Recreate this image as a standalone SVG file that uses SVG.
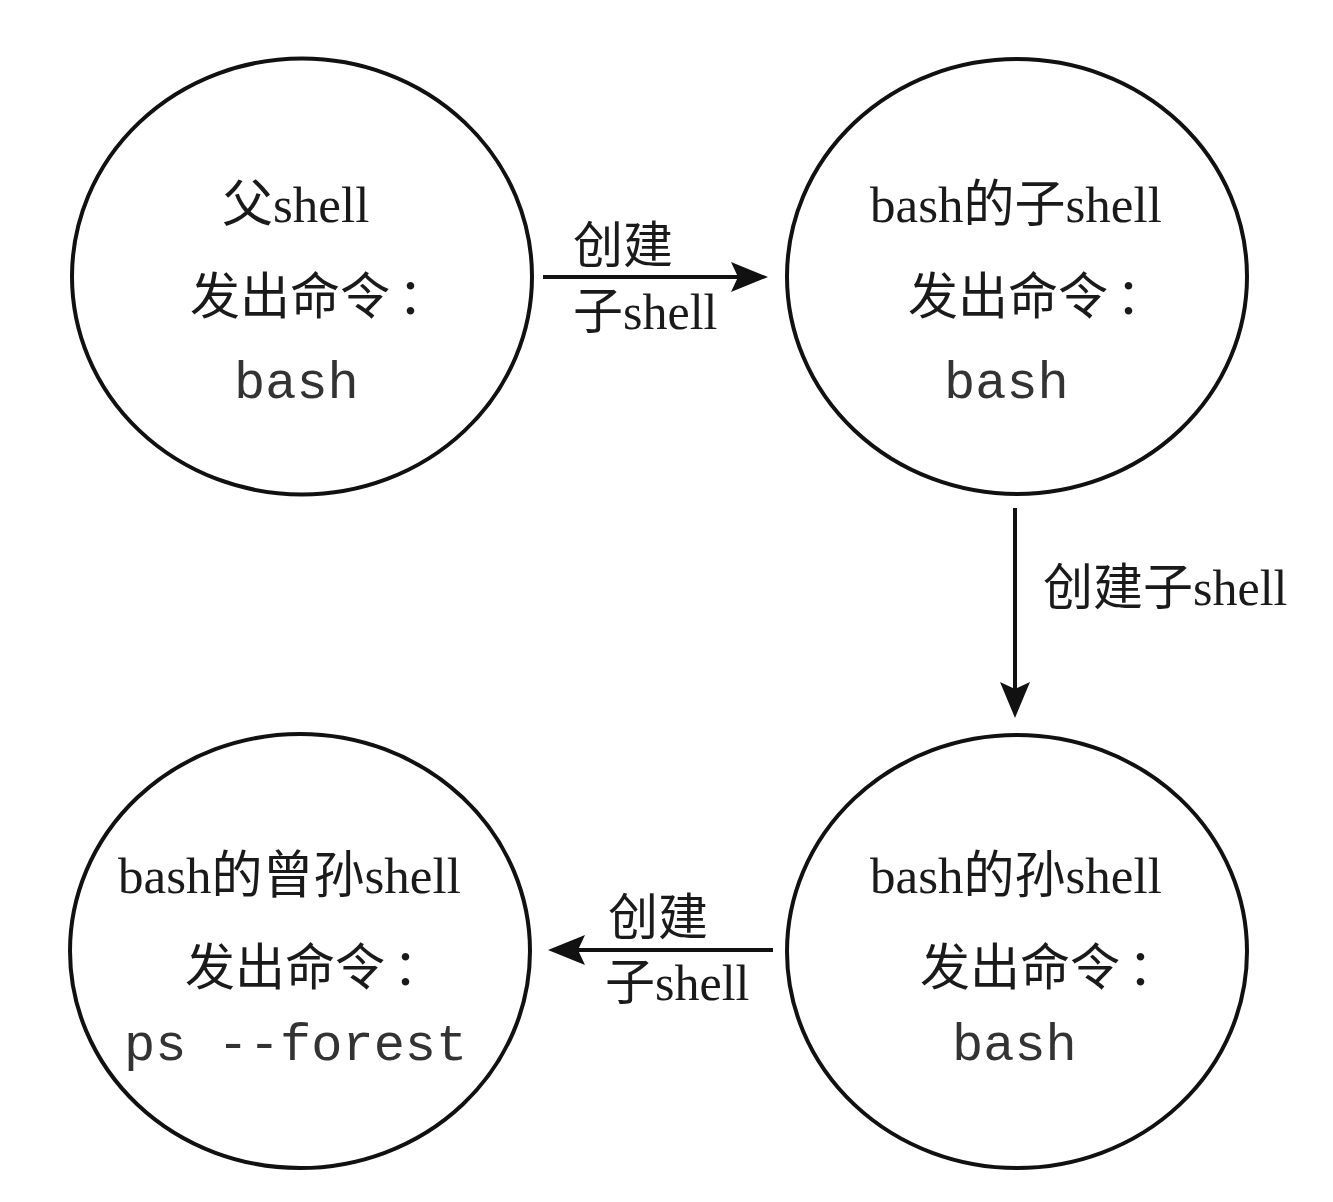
<svg xmlns="http://www.w3.org/2000/svg" width="1333" height="1202" viewBox="0 0 1333 1202">
<style>
.node{fill:#fff;stroke:#111;stroke-width:4}
.t{font-family:"Liberation Serif","Noto Sans CJK SC",serif;font-size:51px;fill:#1a1a1a}
.cj{font-family:"Liberation Serif","Noto Sans CJK SC",serif;font-size:50px;fill:#1a1a1a}
.m{font-family:"Liberation Mono",monospace;font-size:52px;fill:#333}
.lbl{font-family:"Liberation Serif","Noto Sans CJK SC",serif;font-size:50px;fill:#1a1a1a}
.edge{stroke:#111;stroke-width:4;fill:none}
.head{fill:#111}
</style>
<rect width="1333" height="1202" fill="#fff"/>
<g id="node-parent">
<ellipse class="node" cx="302" cy="276.5" rx="230" ry="218"/>
<text class="t" x="222" y="222">父shell</text>
<text class="cj" x="190" y="314">发出命令<tspan dx="8">：</tspan></text>
<text class="m" x="234" y="398">bash</text>
</g>
<g id="node-child">
<ellipse class="node" cx="1017" cy="276.5" rx="230" ry="217.5"/>
<text class="t" x="870" y="222">bash的子shell</text>
<text class="cj" x="908" y="314">发出命令<tspan dx="8">：</tspan></text>
<text class="m" x="944" y="398">bash</text>
</g>
<g id="node-grandchild">
<ellipse class="node" cx="1017" cy="951.5" rx="230" ry="216.5"/>
<text class="t" x="870" y="893">bash的孙shell</text>
<text class="cj" x="920" y="985">发出命令<tspan dx="8">：</tspan></text>
<text class="m" x="952" y="1060">bash</text>
</g>
<g id="node-greatgrandchild">
<ellipse class="node" cx="300" cy="951" rx="230" ry="217"/>
<text class="t" x="118" y="893">bash的曾孙shell</text>
<text class="cj" x="185" y="985">发出命令<tspan dx="8">：</tspan></text>
<text class="m" x="124" y="1060">ps --forest</text>
</g>
<g id="connectors">
<line class="edge" x1="543" y1="277" x2="740" y2="277"/>
<path class="head" d="M768,277 L731,262 L738,277 L731,292 Z"/>
<line class="edge" x1="1015" y1="508" x2="1015" y2="692"/>
<path class="head" d="M1015,718 L1000,682 L1015,689 L1030,682 Z"/>
<line class="edge" x1="773" y1="950" x2="576" y2="950"/>
<path class="head" d="M548,950 L585,935 L578,950 L585,965 Z"/>
<text class="lbl" x="573" y="263">创建</text>
<text class="lbl" x="573" y="329">子shell</text>
<text class="lbl" x="1043" y="605">创建子shell</text>
<text class="lbl" x="608" y="935">创建</text>
<text class="lbl" x="605" y="1000">子shell</text>
</g>
</svg>
